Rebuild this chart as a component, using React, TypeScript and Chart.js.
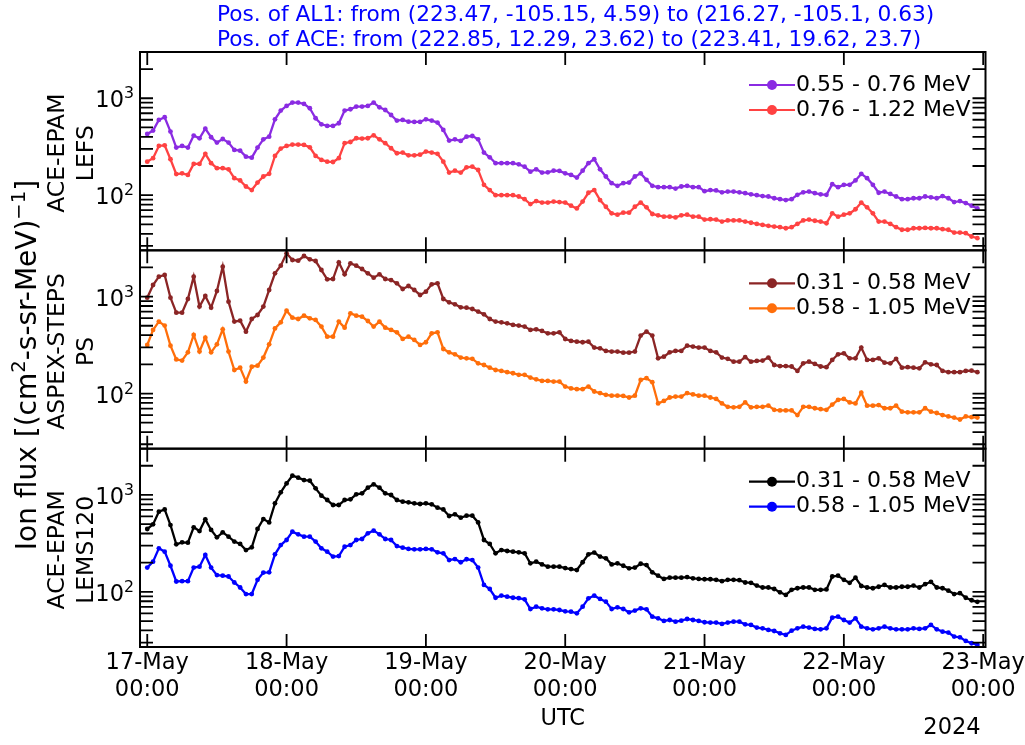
import React, { useEffect, useRef } from "react";
import { Chart, registerables } from "chart.js";

Chart.register(...registerables);

// Hour offsets from 2024-05-17 00:00 UTC (hourly averages)
const HOURS: number[] = Array.from({ length: 144 }, (_, i) => i);

// ACE-EPAM LEFS ion flux
const LEFS_055_076: number[] = [
  428, 464, 598, 637, 453, 310, 322, 310, 412, 386, 486, 396,
  349, 380, 349, 293, 288, 250, 244, 310, 377, 402, 607, 747,
  833, 902, 902, 874, 789, 622, 539, 518, 518, 552, 747, 770,
  820, 820, 833, 902, 807, 757, 672, 588, 598, 574, 570, 570,
  607, 588, 561, 471, 366, 377, 363, 402, 408, 377, 275, 246,
  214, 214, 214, 214, 208, 197, 175, 185, 171, 172, 179, 178,
  168, 162, 152, 179, 214, 235, 185, 156, 133, 125, 133, 135,
  156, 168, 144, 125, 121, 121, 121, 117, 123, 125, 121, 121,
  110, 113, 112, 107, 109, 109, 107, 105, 102, 100, 98, 97,
  93, 91, 89, 91, 101, 107, 109, 105, 102, 101, 130, 121,
  128, 128, 142, 166, 150, 128, 106, 109, 103, 97, 91, 91,
  93, 93, 97, 95, 93, 98, 93, 85, 87, 83, 78, 73,
];
const LEFS_076_122: number[] = [
  222, 241, 322, 327, 235, 165, 168, 162, 210, 210, 267, 214,
  190, 190, 185, 150, 142, 123, 113, 135, 156, 166, 254, 303,
  322, 333, 333, 330, 312, 254, 231, 222, 220, 241, 344, 354,
  387, 384, 387, 415, 377, 344, 305, 271, 275, 258, 258, 262,
  282, 275, 267, 222, 171, 179, 171, 194, 197, 182, 128, 113,
  100, 100, 100, 100, 97, 91, 81, 87, 84, 84, 86, 85,
  84, 78, 73, 86, 106, 113, 89, 76, 65, 63, 66, 66,
  76, 84, 75, 64, 62, 60, 60, 59, 62, 63, 60, 60,
  56, 56.5, 56, 53.5, 55, 55, 55, 53.5, 52, 50.6, 49.4, 48.3,
  47.5, 46.8, 45.6, 46.8, 50.6, 55, 56, 54.5, 53.5, 51.4, 65, 60,
  63, 65, 71.6, 84, 75, 65, 53.5, 53.5, 50.6, 46.8, 44, 44,
  45.6, 45.6, 46, 45.6, 45.6, 44.6, 44, 41.2, 41.2, 40.6, 37.5, 36,
];

// ASPEX-STEPS PS ion flux
const STEPS_031_058: number[] = [
  974, 1317, 1605, 1670, 974, 683, 683, 944, 1605, 788, 1014, 769,
  1142, 2035, 887, 552, 565, 435, 587, 646, 788, 1170, 1738, 2085,
  2794, 2385, 2346, 2622, 2421, 2328, 1880, 1507, 1518, 2254, 1696, 2202,
  2085, 1925, 1738, 1567, 1696, 1518, 1482, 1371, 1197, 1286, 1170, 1039,
  1124, 1337, 1371, 944, 873, 832, 775, 769, 745, 700, 657, 587,
  552, 543, 530, 510, 502, 490, 453, 460, 442, 418, 418, 428,
  365, 349, 343, 338, 343, 298, 293, 275, 271, 271, 264, 264,
  271, 396, 435, 396, 231, 240, 266, 275, 275, 312, 305, 298,
  298, 275, 266, 235, 228, 213, 213, 237, 213, 217, 219, 235,
  197, 192, 192, 190, 171, 205, 213, 202, 190, 187, 222, 254,
  260, 231, 231, 298, 222, 222, 231, 208, 205, 228, 185, 187,
  185, 182, 210, 200, 197, 171, 166, 166, 166, 171, 172, 166,
];
const STEPS_058_105: number[] = [
  317, 453, 552, 502, 312, 225, 219, 266, 402, 271, 377, 266,
  322, 460, 271, 175, 185, 133, 189, 194, 235, 322, 469, 543,
  716, 606, 587, 636, 597, 574, 490, 386, 386, 552, 478, 672,
  636, 621, 560, 490, 552, 478, 453, 428, 366, 386, 357, 317,
  338, 418, 428, 288, 266, 254, 235, 231, 228, 205, 197, 185,
  175, 171, 166, 162, 156, 156, 146, 140, 135, 135, 133, 133,
  118, 113, 111, 111, 118, 105, 101, 97, 95, 95, 94.5, 91,
  95, 138, 144, 131, 79, 84, 91, 93, 93, 101, 98, 95,
  95, 91, 88, 79, 73, 72, 73, 81, 72, 73, 73, 75,
  68, 67, 67, 67, 60, 73, 73, 70.5, 69, 68, 77, 86,
  88, 81, 79, 102, 75, 75, 76, 70.5, 70.5, 75, 65, 64,
  64, 64, 70.5, 65, 63, 60, 58, 56.5, 54, 58, 57, 56.5,
];

// ACE-EPAM LEMS120 ion flux
const LEMS_031_058: number[] = [
  445, 497, 671, 709, 489, 309, 324, 322, 463, 424, 560, 435,
  365, 411, 371, 330, 312, 270, 288, 445, 564, 521, 819, 1063,
  1315, 1578, 1506, 1424, 1402, 1169, 982, 886, 787, 787, 886, 900,
  1014, 1038, 1188, 1285, 1188, 1038, 998, 886, 851, 838, 819, 806,
  819, 799, 739, 709, 606, 631, 582, 611, 611, 521, 343, 312,
  250, 270, 264, 260, 256, 250, 197, 205, 192, 182, 182, 182,
  176, 172, 168, 202, 244, 254, 231, 222, 192, 197, 186, 175,
  178, 195, 189, 159, 147, 136, 140, 140, 140, 142, 138, 136,
  135, 135, 133, 129, 133, 133, 132, 125, 124, 116, 111, 111,
  107, 99, 93, 105, 109, 111, 111, 105, 105, 106, 144, 147,
  133, 124, 140, 115, 111, 109, 113, 118, 111, 111, 113, 113,
  116, 111, 120, 127, 111, 109, 103, 95, 97, 87, 82, 79,
];
const LEMS_058_105: number[] = [
  178, 205, 281, 260, 186, 128, 129, 129, 178, 182, 240, 178,
  149, 147, 144, 125, 111, 95, 95, 133, 158, 159, 244, 304,
  343, 418, 392, 371, 371, 330, 281, 260, 231, 234, 292, 304,
  343, 351, 402, 428, 392, 351, 343, 297, 286, 277, 275, 275,
  277, 275, 256, 250, 213, 218, 202, 217, 213, 178, 118, 107,
  87, 91.5, 89.3, 87, 86, 83.8, 66.6, 70.4, 67.7, 66.1, 66.1, 65,
  63, 62.5, 60.1, 70.4, 85.8, 91.4, 84.5, 79.3, 66.6, 69.3, 66.6, 61.5,
  64.1, 67.7, 66.1, 55.5, 53.4, 50.1, 51.3, 49.3, 50.5, 52.5, 51.3, 50.1,
  48.6, 48.2, 48.2, 46.7, 48.2, 49.3, 49.3, 46.3, 45.6, 42.8, 42.1, 40.5,
  39.5, 37.4, 36, 39.8, 42.1, 43.8, 42.8, 41.5, 41.1, 42.1, 54.2, 55.5,
  51.3, 48.2, 53.4, 43.8, 42.1, 41.1, 42.1, 43.8, 42.1, 41.1, 41.1, 41.1,
  42.1, 41.5, 42.1, 45.6, 41.1, 38.9, 38, 34.6, 34, 31.2, 29.5, 28.4,
];

// Axis ticks
const DAY_TICKS: number[] = [0, 24, 48, 72, 96, 120, 144];
const DAY_LABELS: string[] = ["17-May", "18-May", "19-May", "20-May", "21-May", "22-May", "23-May"];
const TIME_LABEL = "00:00";
const Y_TICKS: number[] = [30, 40, 50, 60, 70, 80, 90, 100, 200, 300, 400, 500, 600, 700, 800, 900, 1000, 2000, 3000];
const Y_DECADES: number[] = [2, 3];
const Y_MIN = 27;
const Y_MAX = 3000;
const X_MIN = -1.25;
const X_MAX = 144.4;

const TITLE_LINES: string[] = [
  "Pos. of AL1: from (223.47, -105.15, 4.59) to (216.27, -105.1, 0.63)",
  "Pos. of ACE: from (222.85, 12.29, 23.62) to (223.41, 19.62, 23.7)",
];
const X_TITLE = "UTC";
const YEAR_LABEL = "2024";

const FONT = "'DejaVu Sans', sans-serif";

type Series = { label: string; color: string; data: number[] };
type Panel = { axis: string; name: string[]; series: Series[] };

const PANELS: Panel[] = [
  {
    axis: "yA",
    name: ["ACE-EPAM", "LEFS"],
    series: [
      { label: "0.55 - 0.76 MeV", color: "#8a2be2", data: LEFS_055_076 },
      { label: "0.76 - 1.22 MeV", color: "#ff4242", data: LEFS_076_122 },
    ],
  },
  {
    axis: "yB",
    name: ["ASPEX-STEPS", "PS"],
    series: [
      { label: "0.31 - 0.58 MeV", color: "#8b2525", data: STEPS_031_058 },
      { label: "0.58 - 1.05 MeV", color: "#ff6e0a", data: STEPS_058_105 },
    ],
  },
  {
    axis: "yC",
    name: ["ACE-EPAM", "LEMS120"],
    series: [
      { label: "0.31 - 0.58 MeV", color: "#000000", data: LEMS_031_058 },
      { label: "0.58 - 1.05 MeV", color: "#0000ff", data: LEMS_058_105 },
    ],
  },
];

type Part = { t: string; sup?: boolean };

// Draws a run of text with optional superscript pieces, vertically centred on y.
function drawRich(
  ctx: CanvasRenderingContext2D,
  parts: Part[],
  x: number,
  y: number,
  size: number,
  align: "left" | "right" | "center"
) {
  const supSize = size * 0.7;
  const widths = parts.map((p) => {
    ctx.font = `${p.sup ? supSize : size}px ${FONT}`;
    return ctx.measureText(p.t).width;
  });
  const total = widths.reduce((a, b) => a + b, 0);
  let cx = align === "left" ? x : align === "right" ? x - total : x - total / 2;
  const base = y + size * 0.36;
  ctx.textAlign = "left";
  ctx.textBaseline = "alphabetic";
  parts.forEach((p, i) => {
    ctx.font = `${p.sup ? supSize : size}px ${FONT}`;
    ctx.fillText(p.t, cx, p.sup ? base - size * 0.4 : base);
    cx += widths[i];
  });
}

const TICK_LEN = 13;

const decorPlugin = {
  id: "panelDecor",
  afterDatasetsDraw(chart: any) {
    const ctx: CanvasRenderingContext2D = chart.ctx;
    const xs = chart.scales.x;
    const left = xs.left;
    const right = xs.right;
    ctx.save();
    ctx.fillStyle = "#000";

    PANELS.forEach((panel) => {
      const ys = chart.scales[panel.axis];
      const top = ys.top;
      const bottom = ys.bottom;

      // inward ticks on all four sides
      ctx.strokeStyle = "#000";
      ctx.lineWidth = 1.8;
      ctx.beginPath();
      for (const v of Y_TICKS) {
        const py = ys.getPixelForValue(v);
        if (py <= top + 1.5 || py >= bottom - 1.5) continue;
        ctx.moveTo(left, py);
        ctx.lineTo(left + TICK_LEN, py);
        ctx.moveTo(right, py);
        ctx.lineTo(right - TICK_LEN, py);
      }
      for (const h of DAY_TICKS) {
        const px = xs.getPixelForValue(h);
        ctx.moveTo(px, top);
        ctx.lineTo(px, top + TICK_LEN);
        ctx.moveTo(px, bottom);
        ctx.lineTo(px, bottom - TICK_LEN);
      }
      ctx.stroke();

      // frame
      ctx.lineWidth = 2;
      ctx.strokeRect(left, top, right - left, bottom - top);

      // decade labels
      ctx.fillStyle = "#000";
      for (const d of Y_DECADES) {
        const py = ys.getPixelForValue(Math.pow(10, d));
        drawRich(ctx, [{ t: "10" }, { t: String(d), sup: true }], 134, py + 1, 22.5, "right");
      }

      // instrument name, two rotated lines
      const cy = (top + bottom) / 2 + 2;
      [58, 87].forEach((lx, i) => {
        ctx.save();
        ctx.translate(lx, cy);
        ctx.rotate(-Math.PI / 2);
        ctx.font = `23.5px ${FONT}`;
        ctx.textAlign = "center";
        ctx.textBaseline = "middle";
        ctx.fillText(panel.name[i], 0, 0);
        ctx.restore();
      });

      // legend
      panel.series.forEach((s, i) => {
        const ly = top + 33 + i * 25;
        ctx.strokeStyle = s.color;
        ctx.lineWidth = 2.2;
        ctx.beginPath();
        ctx.moveTo(749, ly);
        ctx.lineTo(795, ly);
        ctx.stroke();
        ctx.fillStyle = s.color;
        ctx.beginPath();
        ctx.arc(772, ly, 5, 0, Math.PI * 2);
        ctx.fill();
        ctx.fillStyle = "#000";
        ctx.font = `22px ${FONT}`;
        ctx.textAlign = "left";
        ctx.textBaseline = "middle";
        ctx.fillText(s.label, 796, ly);
      });
    });

    // date tick labels
    ctx.fillStyle = "#000";
    ctx.font = `22.5px ${FONT}`;
    ctx.textAlign = "center";
    ctx.textBaseline = "middle";
    DAY_TICKS.forEach((h, i) => {
      const px = xs.getPixelForValue(h);
      ctx.fillText(DAY_LABELS[i], px, 663);
      ctx.fillText(TIME_LABEL, px, 690);
    });
    ctx.fillText(X_TITLE, (left + right) / 2, 719);
    ctx.fillText(YEAR_LABEL, 952, 728);

    // shared y title
    ctx.save();
    ctx.translate(26, 365);
    ctx.rotate(-Math.PI / 2);
    drawRich(
      ctx,
      [
        { t: "Ion flux [(cm" },
        { t: "2", sup: true },
        { t: "-s-sr-MeV)" },
        { t: "\u22121", sup: true },
        { t: "]" },
      ],
      0,
      0,
      28,
      "center"
    );
    ctx.restore();

    // position header
    ctx.fillStyle = "#0000ff";
    ctx.font = `21.7px ${FONT}`;
    ctx.textAlign = "left";
    ctx.textBaseline = "middle";
    TITLE_LINES.forEach((line, i) => ctx.fillText(line, 217, 15 + i * 25));

    ctx.restore();
  },
};

export default function App() {
  const canvasRef = useRef<HTMLCanvasElement | null>(null);

  useEffect(() => {
    const canvas = canvasRef.current;
    if (!canvas) return;

    const datasets: any[] = [];
    PANELS.forEach((panel) => {
      panel.series.forEach((s) => {
        datasets.push({
          label: s.label,
          data: s.data.map((v, i) => ({ x: HOURS[i], y: v })),
          yAxisID: panel.axis,
          xAxisID: "x",
          borderColor: s.color,
          backgroundColor: s.color,
          borderWidth: 2.3,
          pointRadius: 2.4,
          pointBorderWidth: 0,
          pointBackgroundColor: s.color,
          tension: 0,
          fill: false,
        });
      });
    });

    const logAxis = (weight: number) => ({
      type: "logarithmic" as const,
      position: "left" as const,
      display: false,
      min: Y_MIN,
      max: Y_MAX,
      bounds: "data" as const,
      stack: "panels",
      stackWeight: 1,
      weight,
    });

    const chart = new Chart(canvas, {
      type: "line",
      data: { datasets },
      options: {
        animation: false,
        responsive: false,
        devicePixelRatio: 1,
        layout: { padding: { left: 140, top: 52, right: 39.5, bottom: 98 } },
        plugins: {
          legend: { display: false },
          tooltip: { enabled: false },
        },
        scales: {
          x: { type: "linear", display: false, min: X_MIN, max: X_MAX },
          yA: logAxis(3),
          yB: logAxis(2),
          yC: logAxis(1),
        } as any,
      },
      plugins: [decorPlugin],
    });

    return () => chart.destroy();
  }, []);

  return (
    <div style={{ position: "fixed", left: 0, top: 0, width: 1025, height: 745, background: "#ffffff" }}>
      <canvas ref={canvasRef} width={1025} height={745} style={{ display: "block" }} />
    </div>
  );
}
